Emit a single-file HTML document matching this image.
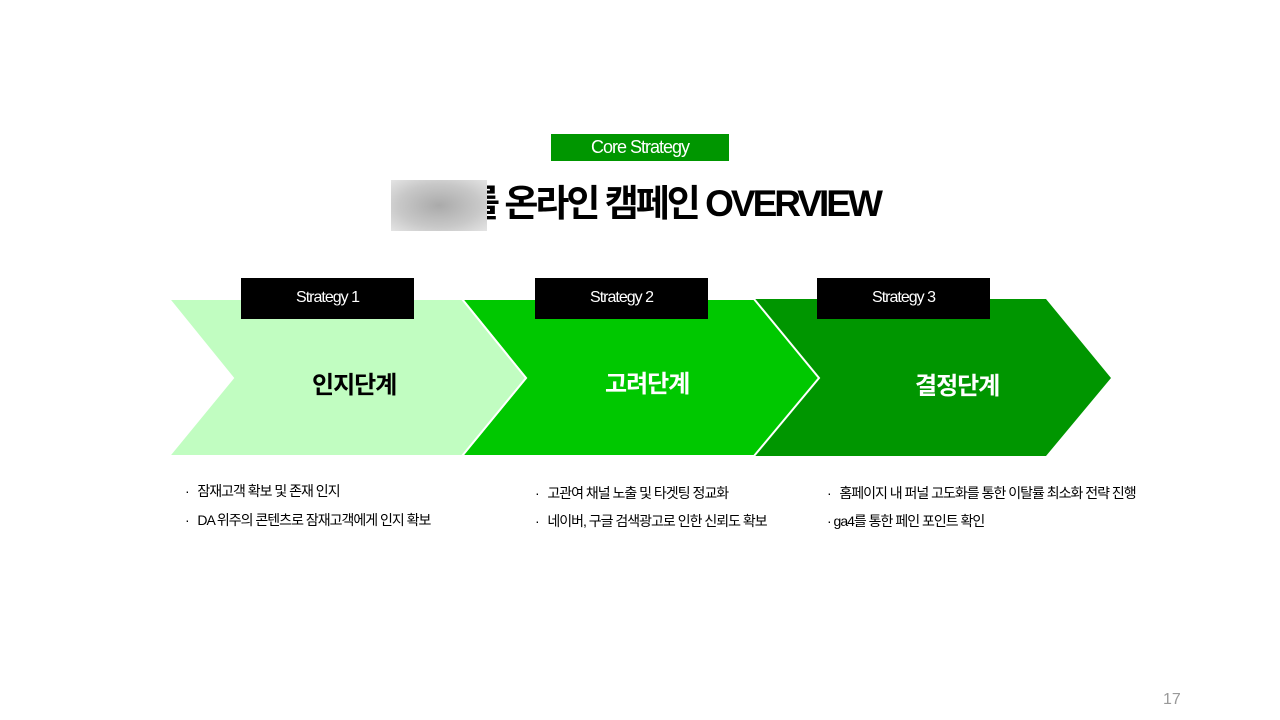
<!DOCTYPE html>
<html><head><meta charset="utf-8"><style>
body{margin:0;width:1280px;height:720px;background:#fff;position:relative;overflow:hidden;font-family:"Liberation Sans","Noto Sans CJK KR",sans-serif}
.a{position:absolute}
.tag{background:#000;color:#fff;font-size:16px;text-align:center;line-height:40px;height:41px;width:173px;letter-spacing:-1px}
.lbl{font-size:24px;font-weight:bold;letter-spacing:-1px}
.li{font-size:14px;letter-spacing:-1px;color:#000}
</style></head><body>
<div class="a" style="left:551px;top:134px;width:178px;height:27px;background:#009600;color:#fff;font-size:18px;line-height:27px;text-align:center;letter-spacing:-1px">Core Strategy</div>
<div class="a" style="left:466px;top:181px;font-size:37px;font-weight:bold;letter-spacing:-3px;line-height:46px;white-space:nowrap">를 온라인 캠페인 OVERVIEW</div>
<div class="a" style="left:391px;top:180px;width:96px;height:51px;background:radial-gradient(ellipse at center,#aaa 0%,#c8c8c8 60%,#e4e4e4 100%)"></div>
<svg class="a" style="left:0;top:0" width="1280" height="720">
<polygon points="754,299 1046,299 1111,378 1046,456 754,456 819,378" fill="#009600"/>
<polygon points="462,299 754,299 819,378 754,456 462,456 526,378" fill="#00c800" stroke="#fff" stroke-width="2"/>
<polygon points="169,299 462,299 526,378 462,456 169,456 233,378" fill="#c1fdc1" stroke="#fff" stroke-width="2"/>
</svg>
<div class="a tag" style="left:241px;top:278px">Strategy 1</div>
<div class="a tag" style="left:535px;top:278px">Strategy 2</div>
<div class="a tag" style="left:817px;top:278px">Strategy 3</div>
<div class="a lbl" style="left:312px;top:365px">인지단계</div>
<div class="a lbl" style="left:605px;top:364px;color:#fff">고려단계</div>
<div class="a lbl" style="left:915px;top:366px;color:#fff">결정단계</div>
<div class="a li" style="left:185px;top:481px">·&nbsp;&nbsp; 잠재고객 확보 및 존재 인지</div>
<div class="a li" style="left:185px;top:510px">·&nbsp;&nbsp; DA 위주의 콘텐츠로 잠재고객에게 인지 확보</div>
<div class="a li" style="left:535px;top:483px">·&nbsp;&nbsp; 고관여 채널 노출 및 타겟팅 정교화</div>
<div class="a li" style="left:535px;top:511px">·&nbsp;&nbsp; 네이버, 구글 검색광고로 인한 신뢰도 확보</div>
<div class="a li" style="left:827px;top:483px">·&nbsp;&nbsp; 홈페이지 내 퍼널 고도화를 통한 이탈률 최소화 전략 진행</div>
<div class="a li" style="left:827px;top:511px">· ga4를 통한 페인 포인트 확인</div>
<div class="a" style="left:1163px;top:691px;font-size:16px;color:#999">17</div>
</body></html>
